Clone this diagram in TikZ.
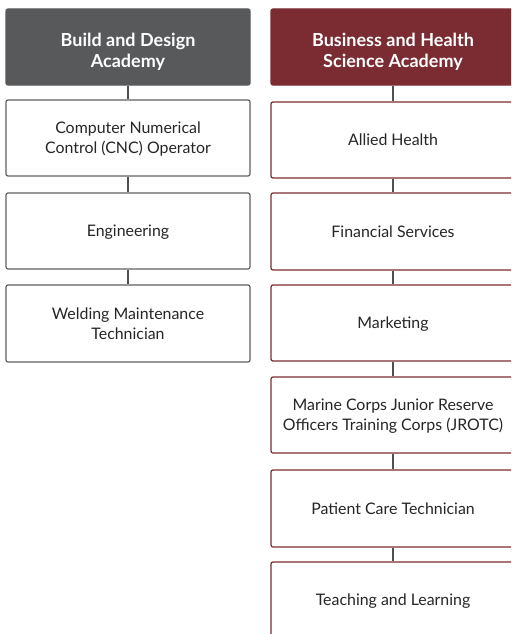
\documentclass[tikz,border=0pt]{standalone}
\usepackage{fontspec}
\setmainfont{Lato}
\definecolor{hgray}{HTML}{58595B}
\definecolor{hred}{HTML}{7B2C33}
\definecolor{lgray}{HTML}{606060}
\definecolor{cgray}{HTML}{505050}
\begin{document}
\begin{tikzpicture}[x=1pt,y=-1pt,
  box/.style={rectangle, rounded corners=2pt, minimum width=244pt, minimum height=76pt, inner sep=0pt, align=center, font=\fontsize{15.9}{20}\selectfont, text=black!85, fill=white, line width=1.2pt, text depth=0pt},
  lbox/.style={box, draw=lgray},
  rbox/.style={box, draw=hred},
  head/.style={box, text=white, font=\fontsize{18}{21}\selectfont\bfseries, text height=41pt, text depth=0pt},
  lhead/.style={head, fill=hgray, draw=hgray},
  rhead/.style={head, fill=hred, draw=hred},
  link/.style={draw=cgray, line width=1.4pt}]
\useasboundingbox (0,0) rectangle (511,634);
\clip (0,0) rectangle (511,634);
% left column
\node[lhead] (L0) at (128,47) {Build and Design\\Academy};
\node[lbox] (L1) at (128,138) {Computer Numerical\\Control (CNC) Operator};
\node[lbox] (L2) at (128,231) {Engineering};
\node[lbox, minimum height=77pt] (L3) at (128,323.5) {Welding Maintenance\\Technician};
% right column
\node[rhead] (R0) at (393,47) {Business and Health\\Science Academy};
\node[rbox] (R1) at (393,140) {Allied Health};
\node[rbox, minimum height=77pt] (R2) at (393,231.5) {Financial Services};
\node[rbox] (R3) at (393,323) {Marketing};
\node[rbox] (R4) at (393,415) {Marine Corps Junior Reserve\\Officers Training Corps (JROTC)};
\node[rbox, minimum height=77pt] (R5) at (393,508.5) {Patient Care Technician};
\node[rbox] (R6) at (393,600) {Teaching and Learning};
% connectors
\foreach \a/\b in {L0/L1,L1/L2,L2/L3,R0/R1,R1/R2,R2/R3,R3/R4,R4/R5,R5/R6}
  \path[link] (\a.south) -- (\b.north);
\end{tikzpicture}
\end{document}
